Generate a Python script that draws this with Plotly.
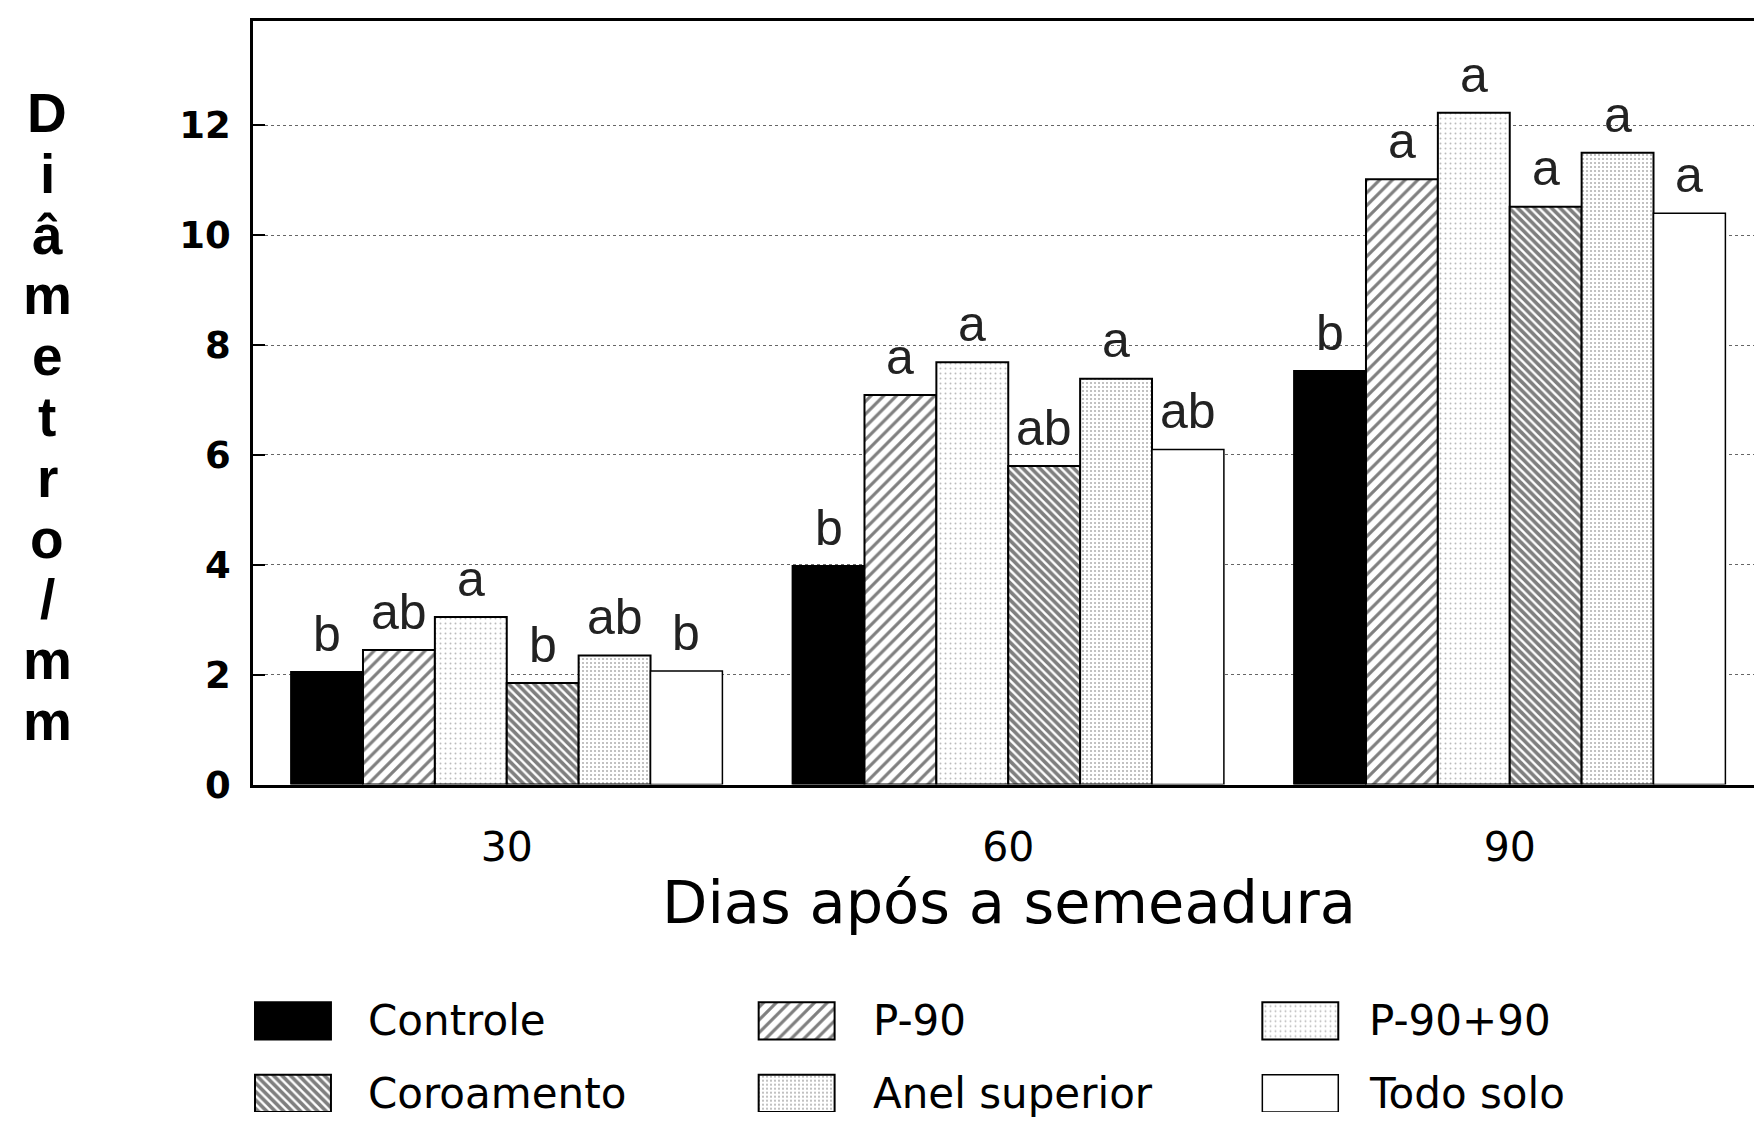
import plotly.graph_objects as go

# ---------------- data ----------------
days = ["30", "60", "90"]
treatments = ["Controle", "P-90", "P-90+90", "Coroamento", "Anel superior", "Todo solo"]
controle = [2.05, 3.98, 7.53]
p90 = [2.45, 7.09, 11.02]
p90_90 = [3.05, 7.69, 12.23]
coroamento = [1.85, 5.80, 10.52]
anel_superior = [2.35, 7.39, 11.50]
todo_solo = [2.07, 6.10, 10.40]
letters_controle = ["b", "b", "b"]
letters_p90 = ["ab", "a", "a"]
letters_p90_90 = ["a", "a", "a"]
letters_coroamento = ["b", "ab", "a"]
letters_anel = ["ab", "a", "a"]
letters_todo = ["b", "ab", "a"]
y_ticks = [0, 2, 4, 6, 8, 10, 12]
y_title = "Diâmetro/mm"
x_title = "Dias após a semeadura"

series = [controle, p90, p90_90, coroamento, anel_superior, todo_solo]
letters = [letters_controle, letters_p90, letters_p90_90,
           letters_coroamento, letters_anel, letters_todo]

# ---------------- styles ----------------
FONT = "DejaVu Sans"
styles = [
    dict(color="black", pattern=None, lw=2),
    dict(color="white", pattern=dict(shape="/", fgcolor="black", bgcolor="white", size=9, solidity=0.35), lw=2),
    dict(color="white", pattern=dict(shape=".", fgcolor="#777", bgcolor="white", size=5, solidity=0.12), lw=2),
    dict(color="white", pattern=dict(shape="\\", fgcolor="black", bgcolor="white", size=6, solidity=0.6), lw=2),
    dict(color="white", pattern=dict(shape=".", fgcolor="#666", bgcolor="white", size=4, solidity=0.22), lw=2),
    dict(color="white", pattern=None, lw=1.5),
]

W, H = 1762, 1130
ML, MR, MT, MB = 245, 6, 13, 4
plot_w = W - ML - MR
plot_h = H - MT - MB
y_bottom_px = 792  # bottom of main chart in page pixels


def py(Y):  # page pixel y -> paper y
    return (H - MB - Y) / plot_h


def px(X):  # page pixel x -> paper x
    return (X - ML) / plot_w


fig = go.Figure()

bargap = 0.14
n = len(series)
for i, (vals, name, st) in enumerate(zip(series, treatments, styles)):
    marker = dict(color=st["color"], line=dict(color="black", width=st["lw"]))
    if st["pattern"]:
        marker["pattern"] = st["pattern"]
    fig.add_trace(go.Bar(x=days, y=vals, name=name, marker=marker,
                         showlegend=False, xaxis="x", yaxis="y"))

# significance letters
for i, (vals, labs) in enumerate(zip(series, letters)):
    for g, (v, t) in enumerate(zip(vals, labs)):
        xc = g - (1 - bargap) / 2 + (i + 0.5) * (1 - bargap) / n
        fig.add_annotation(x=xc, y=v + 0.15, xref="x", yref="y", text=t,
                           showarrow=False, yanchor="bottom",
                           font=dict(family="Liberation Sans", size=50, color="#222"))

# ---------------- custom legend (pixel frame on x2/y2) ----------------
leg_cols_x = [247, 751, 1255]
leg_text_x = [358, 863, 1360]
leg_rows_top = [1014, 1088]
sw_w, sw_h = 76, 38
for i, (name, st) in enumerate(zip(treatments, styles)):
    r, c = divmod(i, 3)
    marker = dict(color=st["color"], line=dict(color="black", width=st["lw"]))
    if st["pattern"]:
        marker["pattern"] = st["pattern"]
    fig.add_trace(go.Bar(x=[leg_cols_x[c]], y=[sw_h], base=[leg_rows_top[r]],
                         width=[sw_w], offset=[0], marker=marker, showlegend=False,
                         hoverinfo="skip", xaxis="x2", yaxis="y2"))
    fig.add_annotation(x=leg_text_x[c], y=leg_rows_top[r] + sw_h / 2, xref="x2", yref="y2",
                       text=name, showarrow=False, xanchor="left", yanchor="middle",
                       font=dict(family=FONT, size=42, color="black"))

# y title: stacked letters
y_letters = list(y_title)
top_c, bot_c = 107, 727
for k, ch in enumerate(y_letters):
    Y = top_c + k * (bot_c - top_c) / (len(y_letters) - 1)
    fig.add_annotation(x=px(39), y=py(Y), xref="paper", yref="paper", text=ch,
                       showarrow=False, xanchor="center", yanchor="middle",
                       font=dict(family="Liberation Sans", size=55, color="black", weight="bold"))

# x title
fig.add_annotation(x=px(1002), y=py(912), xref="paper", yref="paper", text=x_title,
                   showarrow=False, xanchor="center", yanchor="middle",
                   font=dict(family=FONT, size=59, color="black"))

fig.update_layout(
    width=W, height=H,
    margin=dict(l=ML, r=MR, t=MT, b=MB),
    paper_bgcolor="white", plot_bgcolor="white",
    barmode="group", bargap=bargap, bargroupgap=0,
    xaxis=dict(domain=[0, 1], anchor="y", range=[-0.506, 2.505], showline=True, mirror=True,
               linecolor="black", linewidth=2.5, ticks="", showgrid=False,
               tickfont=dict(family=FONT, size=41, color="black"), ticklabelstandoff=24),
    yaxis=dict(domain=[py(y_bottom_px), 1], anchor="x", range=[0, 13.9], tickvals=y_ticks,
               showline=True, mirror=True, linecolor="black", linewidth=2.5,
               ticks="inside", ticklen=12, tickwidth=2, tickcolor="black",
               showgrid=True, gridcolor="#666", gridwidth=1, griddash="dot", zeroline=False,
               tickfont=dict(family=FONT, size=37, color="black", weight="bold"),
               ticklabelstandoff=12),
    xaxis2=dict(domain=[0, 1], anchor="y2", range=[ML, W - MR], visible=False),
    yaxis2=dict(domain=[0, py(990)], anchor="x2", range=[H - MB, 990], visible=False),
)

fig.write_html("out.html")
